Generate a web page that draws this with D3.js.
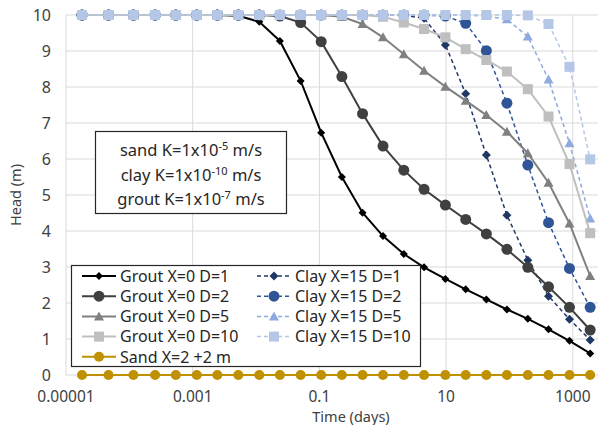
<!DOCTYPE html>
<html>
<head>
<meta charset="utf-8">
<script src="https://cdn.jsdelivr.net/npm/d3@7"></script>
<style>
  body { margin: 0; background: #fff; }
  svg { display: block; font-family: "Noto Sans", "Open Sans", sans-serif; }
</style>
</head>
<body>
<svg width="608" height="425"></svg>
<script>
// time in days
var times = [1.79e-5, 4.69e-5, 1.16e-4, 2.55e-4, 5.42e-4, 1.16e-3, 2.45e-3, 5.25e-3, 0.01125, 0.0238,
  0.0506, 0.1067, 0.2265, 0.48, 1.01, 2.15, 4.49, 9.75, 20.4, 43.2, 91.2, 195, 414, 887, 1880];

var groutD1 = [10, 10, 10, 10, 10, 10, 10, 9.98, 9.81, 9.28, 8.17, 6.73, 5.5, 4.51, 3.86, 3.36, 2.99, 2.67, 2.38, 2.10, 1.82, 1.56, 1.27, 0.95, 0.60];
var groutD2 = [10, 10, 10, 10, 10, 10, 10, 10, 10, 9.97, 9.79, 9.26, 8.29, 7.26, 6.36, 5.69, 5.16, 4.72, 4.32, 3.92, 3.49, 2.99, 2.45, 1.88, 1.25];
var groutD5 = [10, 10, 10, 10, 10, 10, 10, 10, 10, 10, 10, 10, 9.95, 9.75, 9.38, 8.91, 8.45, 8.01, 7.62, 7.22, 6.76, 6.16, 5.34, 4.21, 2.75];
var groutD10 = [10, 10, 10, 10, 10, 10, 10, 10, 10, 10, 10, 10, 10, 10, 9.95, 9.79, 9.61, 9.38, 9.05, 8.75, 8.43, 7.94, 7.18, 5.86, 3.94];
var clayD1 = [10, 10, 10, 10, 10, 10, 10, 10, 10, 10, 10, 10, 10, 10, 10, 9.99, 9.91, 9.17, 7.81, 6.11, 4.44, 3.19, 2.19, 1.55, 0.97];
var clayD2 = [10, 10, 10, 10, 10, 10, 10, 10, 10, 10, 10, 10, 10, 10, 10, 10, 10, 9.97, 9.77, 9.01, 7.55, 5.83, 4.23, 2.96, 1.88];
var clayD5 = [10, 10, 10, 10, 10, 10, 10, 10, 10, 10, 10, 10, 10, 10, 10, 10, 10, 10, 10, 9.97, 9.88, 9.40, 8.21, 6.44, 4.35];
var clayD10 = [10, 10, 10, 10, 10, 10, 10, 10, 10, 10, 10, 10, 10, 10, 10, 10, 10, 10, 10, 10, 10, 9.99, 9.75, 8.56, 5.99];
var sand = [0, 0, 0, 0, 0, 0, 0, 0, 0, 0, 0, 0, 0, 0, 0, 0, 0, 0, 0, 0, 0, 0, 0, 0, 0];

var xTicks = [0.00001, 0.001, 0.1, 10, 1000];
var xTickLabels = ['0.00001', '0.001', '0.1', '10', '1000'];
var yTicks = [0, 1, 2, 3, 4, 5, 6, 7, 8, 9, 10];

// drawing order follows the excel series order
var series = [
  { name: 'Grout X=0 D=1', values: groutD1, color: '#000000', shape: 'diamond', size: 8, dash: null, col: 0, row: 0 },
  { name: 'Clay X=15 D=1', values: clayD1, color: '#203864', shape: 'diamond', size: 9, dash: '4,3', col: 1, row: 0 },
  { name: 'Grout X=0 D=2', values: groutD2, color: '#404040', shape: 'circle', size: 11, dash: null, col: 0, row: 1 },
  { name: 'Clay X=15 D=2', values: clayD2, color: '#2F5597', shape: 'circle', size: 11, dash: '4,3', col: 1, row: 1 },
  { name: 'Grout X=0 D=5', values: groutD5, color: '#808080', shape: 'triangle', size: 10, dash: null, col: 0, row: 2 },
  { name: 'Clay X=15 D=5', values: clayD5, color: '#8FAADC', shape: 'triangle', size: 10, dash: '4,3', col: 1, row: 2 },
  { name: 'Grout X=0 D=10', values: groutD10, color: '#BFBFBF', shape: 'square', size: 10, dash: null, col: 0, row: 3 },
  { name: 'Clay X=15 D=10', values: clayD10, color: '#B4C7E7', shape: 'square', size: 10, dash: '4,3', col: 1, row: 3 },
  { name: 'Sand X=2 +2 m', values: sand, color: '#BF9000', shape: 'circle', size: 10, dash: null, col: 0, row: 4 }
];

var svg = d3.select('svg');
var margin = { left: 66, right: 10, top: 15, bottom: 50 };
var width = 608 - margin.left - margin.right;
var height = 425 - margin.top - margin.bottom;

var x = d3.scaleLog().domain([0.00001, 2500]).range([margin.left, margin.left + width]);
var y = d3.scaleLinear().domain([0, 10]).range([margin.top + height, margin.top]);

// gridlines
svg.append('g').selectAll('line').data(yTicks.slice(1)).join('line')
  .attr('x1', margin.left).attr('x2', margin.left + width)
  .attr('y1', d => y(d)).attr('y2', d => y(d))
  .attr('stroke', '#D9D9D9').attr('stroke-width', 1);
svg.append('g').selectAll('line').data(xTicks.slice(1)).join('line')
  .attr('x1', d => x(d)).attr('x2', d => x(d))
  .attr('y1', margin.top).attr('y2', margin.top + height)
  .attr('stroke', '#D9D9D9').attr('stroke-width', 1);

// axis lines
svg.append('line')
  .attr('x1', margin.left).attr('x2', margin.left)
  .attr('y1', margin.top).attr('y2', margin.top + height)
  .attr('stroke', '#D9D9D9');
svg.append('line')
  .attr('x1', margin.left).attr('x2', margin.left + width)
  .attr('y1', y(0)).attr('y2', y(0))
  .attr('stroke', '#D9D9D9');

// tick labels
svg.append('g').selectAll('text').data(yTicks).join('text')
  .attr('x', 51).attr('y', d => y(d)).attr('dy', '0.36em')
  .attr('text-anchor', 'end').attr('font-size', 16).attr('fill', '#404040')
  .text(d => d);
svg.append('g').selectAll('text').data(xTicks).join('text')
  .attr('x', d => x(d)).attr('y', 402)
  .attr('text-anchor', 'middle').attr('font-size', 15.5).attr('fill', '#404040')
  .text((d, i) => xTickLabels[i]);

// axis titles
svg.append('text')
  .attr('transform', 'translate(21,195) rotate(-90)')
  .attr('text-anchor', 'middle').attr('font-size', 14.5).attr('fill', '#404040')
  .text('Head (m)');
svg.append('text')
  .attr('x', 351).attr('y', 421.5)
  .attr('text-anchor', 'middle').attr('font-size', 14.5).attr('fill', '#404040')
  .text('Time (days)');

function drawMarker(g, shape, size, color, cx, cy) {
  var h = size / 2;
  if (shape === 'circle') {
    g.append('circle').attr('cx', cx).attr('cy', cy).attr('r', h).attr('fill', color);
  } else if (shape === 'square') {
    g.append('rect').attr('x', cx - h).attr('y', cy - h).attr('width', size).attr('height', size).attr('fill', color);
  } else if (shape === 'diamond') {
    g.append('path').attr('d', 'M' + cx + ',' + (cy - h) + 'L' + (cx + h) + ',' + cy + 'L' + cx + ',' + (cy + h) + 'L' + (cx - h) + ',' + cy + 'Z').attr('fill', color);
  } else if (shape === 'triangle') {
    g.append('path').attr('d', 'M' + cx + ',' + (cy - h) + 'L' + (cx + h) + ',' + (cy + h * 0.8) + 'L' + (cx - h) + ',' + (cy + h * 0.8) + 'Z').attr('fill', color);
  }
}

var lineGenerator = d3.line()
  .x((d, i) => x(times[i]))
  .y(d => y(d));

series.forEach(s => {
  var g = svg.append('g');
  g.append('path')
    .attr('d', lineGenerator(s.values))
    .attr('fill', 'none')
    .attr('stroke', s.color)
    .attr('stroke-width', s.dash ? 1.5 : 2)
    .attr('stroke-dasharray', s.dash);
  s.values.forEach((v, i) => drawMarker(g, s.shape, s.size, s.color, x(times[i]), y(v)));
});

// annotation box
var note = svg.append('g');
note.append('rect')
  .attr('x', 95.5).attr('y', 131.5).attr('width', 191).attr('height', 82)
  .attr('fill', '#fff').attr('stroke', '#262626').attr('stroke-width', 1.2);
var noteLines = [['sand K=1x10', '-5', ' m/s'], ['clay K=1x10', '-10', ' m/s'], ['grout K=1x10', '-7', ' m/s']];
noteLines.forEach((l, i) => {
  var t = note.append('text')
    .attr('x', 191).attr('y', 156 + i * 24.5)
    .attr('text-anchor', 'middle').attr('font-size', 16.5).attr('fill', '#262626');
  t.append('tspan').text(l[0]);
  t.append('tspan').attr('dy', -6).attr('font-size', 11).text(l[1]);
  t.append('tspan').attr('dy', 6).text(l[2]);
});

// legend
var legend = svg.append('g');
legend.append('rect')
  .attr('x', 71.5).attr('y', 265.5).attr('width', 349).attr('height', 101)
  .attr('fill', '#fff').attr('stroke', '#262626').attr('stroke-width', 1.2);
var colX = [82, 257];
series.forEach(s => {
  var lx = colX[s.col];
  var ly = 276 + s.row * 20.2;
  legend.append('line')
    .attr('x1', lx).attr('x2', lx + 34).attr('y1', ly).attr('y2', ly)
    .attr('stroke', s.color).attr('stroke-width', s.dash ? 1.5 : 2)
    .attr('stroke-dasharray', s.dash);
  drawMarker(legend, s.shape, s.size, s.color, lx + 17, ly);
  legend.append('text')
    .attr('x', lx + 38).attr('y', ly).attr('dy', '0.36em')
    .attr('font-size', 16).attr('fill', '#262626')
    .text(s.name);
});
</script>
</body>
</html>
